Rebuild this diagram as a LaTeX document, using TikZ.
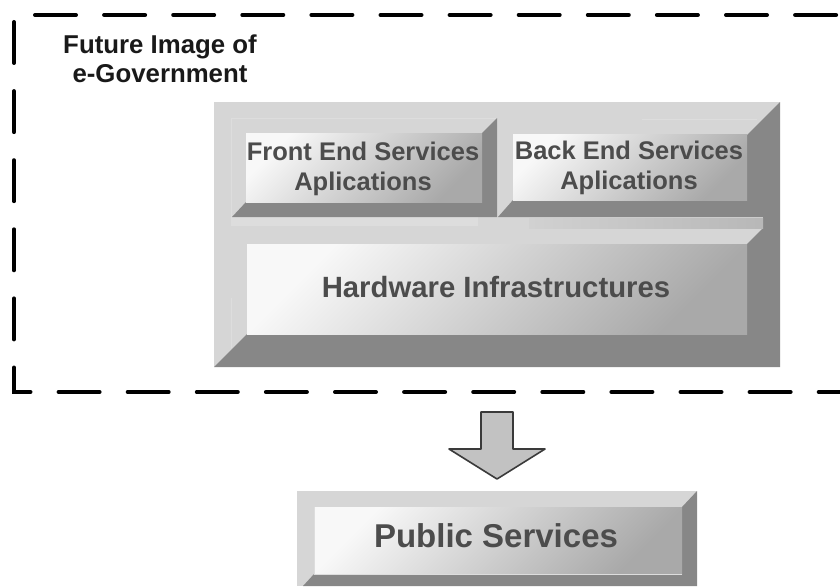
\documentclass[tikz,border=0pt]{standalone}
\usepackage{fontspec}
\setmainfont{Liberation Sans}
\usetikzlibrary{calc}

\definecolor{bevlight}{HTML}{D6D6D6}
\definecolor{bevdark}{HTML}{878787}
\definecolor{facelight}{HTML}{F8F8F8}
\definecolor{facedark}{HTML}{A9A9A9}
\definecolor{faint}{HTML}{DDDDDD}
\definecolor{labelgray}{HTML}{4C4C4C}
\definecolor{arrowfill}{HTML}{C2C2C2}
\definecolor{arrowline}{HTML}{3A3A3A}

\tikzset{
  borderline/.style={line width=4pt, line cap=round, dash pattern=on 41pt off 28.1pt},
  bevelbase/.style={fill=bevlight},
  beveldark/.style={fill=bevdark},
  facefill/.style={top color=facelight, bottom color=facedark, shading angle=45},
  btnlabel/.style={text=labelgray, inner sep=0pt, align=center,
    font=\bfseries\fontsize{25.5}{30}\selectfont},
  titlelabel/.style={text=black!90, inner sep=0pt, align=center,
    font=\bfseries\fontsize{25.8}{29}\selectfont},
  blockarrow/.style={fill=arrowfill, draw=arrowline, line width=1.6pt, line join=round},
}

\begin{document}
\begin{tikzpicture}[x=1pt, y=-1pt]
  \useasboundingbox (0,0) rectangle (840,586);

  % dashed frame around the e-Government block (open to the right)
  \coordinate (fTL) at (35,15);
  \coordinate (fTR) at (845,15);
  \coordinate (fLT) at (14,22);
  \coordinate (fBL) at (14,392);
  \coordinate (fBR) at (845,392);
  \draw[borderline] (fTL) -- (fTR);
  \draw[borderline] (fLT) -- (fBL) -- (fBR);

  % title
  \node[titlelabel, anchor=base] (title1) at (160,53) {Future Image of};
  \node[titlelabel, anchor=base] (title2) at (160,82) {e-Government};

  % platform: light body
  \fill[bevelbase] (214,102) rectangle (780,367);
  % faint frame traces around the front-end block
  \fill[faint] (231,217) rectangle (478,226);
  \draw[faint, line width=1pt] (231,118.5) -- (497,118.5);
  \draw[faint, line width=1pt] (231,118) -- (231,226);
  \draw[faint, line width=1pt] (642,119) -- (757,119);
  \draw[faint, line width=1pt] (231,298) -- (231,348);

  % front-end block: dark right and bottom bevel
  \fill[beveldark] (497,118) -- (497,217) -- (232,217) -- (246,202)
                   -- (482,202) -- (482,133) -- cycle;
  % back-end + hardware: shared dark right side and bottom bevels
  \fill[beveldark] (780,102) -- (780,367) -- (214,367) -- (247,334)
                   -- (747,334) -- (747,244) -- (763,228) -- (763,217)
                   -- (498,217) -- (513,200) -- (747,200) -- (747,135) -- cycle;
  % shadow strip above the hardware block
  \shade[left color=black!18, right color=black!28] (529,218) rectangle (763,228);

  % faces
  \shade[facefill] (246,133) rectangle (482,202);
  \shade[facefill] (513,134) rectangle (747,200);
  \shade[facefill] (247,244) rectangle (747,334);

  % two-line labels: the base anchor sits on the last line
  \node[btnlabel, anchor=base] (front) at (363,190)
    {Front End Services\\Aplications};
  \node[btnlabel, anchor=base] (back) at (629,189)
    {Back End Services\\Aplications};
  \node[btnlabel, anchor=base, font=\bfseries\fontsize{29.3}{34}\selectfont]
    (hw) at (496,297) {Hardware Infrastructures};

  % block arrow down to the public services
  \coordinate (aTL) at (481,412);
  \coordinate (aTR) at (513,412);
  \coordinate (aTip) at (497,479);
  \path[blockarrow] (aTL) -- (aTR) -- (513,449) -- (545,449) -- (aTip)
    -- (449,449) -- (481,449) -- cycle;

  % public services button
  \fill[bevelbase] (297,491) rectangle (697,586);
  \fill[beveldark] (697,491) -- (697,586) -- (303,586) -- (314,574)
                   -- (682,574) -- (682,507) -- cycle;
  \shade[facefill] (314,507) rectangle (682,574);
  \draw[faint, line width=0.8pt] (314,507) -- (314,574) -- (682,574);
  \node[btnlabel, anchor=base, font=\bfseries\fontsize{33}{38}\selectfont]
    (public) at (496,547) {Public Services};
\end{tikzpicture}
\end{document}
